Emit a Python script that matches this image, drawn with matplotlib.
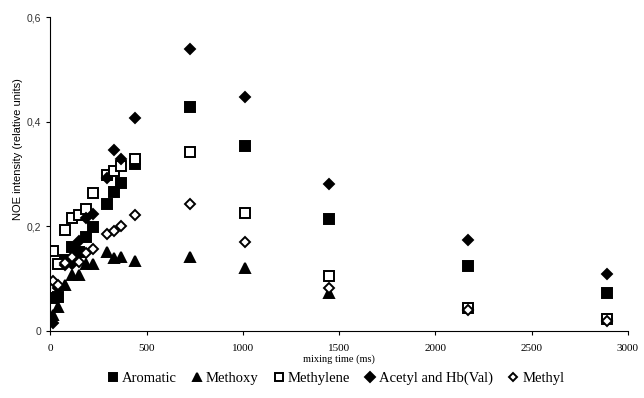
import matplotlib
matplotlib.use("Agg")
import matplotlib.pyplot as plt
from matplotlib.ticker import FuncFormatter

t_early = [16, 38, 76, 112, 150, 185, 220, 294, 332, 367, 441]
t_late = [725, 1010, 1450, 2170, 2890]
times = t_early + t_late

aromatic = [0.063, 0.065, 0.136, 0.161, 0.151, 0.180, 0.199, 0.242, 0.266, 0.283, 0.320,
            0.429, 0.354, 0.215, 0.125, 0.072]
methoxy_t = t_early + t_late[:3]
methoxy = [0.031, 0.046, 0.089, 0.107, 0.107, 0.128, 0.129, 0.151, 0.140, 0.142, 0.134,
           0.141, 0.120, 0.072]
methylene = [0.153, 0.128, 0.194, 0.216, 0.221, 0.234, 0.264, 0.298, 0.306, 0.315, 0.328,
             0.342, 0.225, 0.105, 0.045, 0.024]
acetyl = [0.015, 0.082, 0.126, 0.129, 0.172, 0.217, 0.223, 0.293, 0.347, 0.329, 0.408,
          0.540, 0.447, 0.281, 0.174, 0.109]
methyl = [0.096, 0.089, 0.130, 0.142, 0.133, 0.149, 0.156, 0.185, 0.191, 0.201, 0.221,
          0.243, 0.170, 0.083, 0.040, 0.020]

fig = plt.figure(figsize=(6.44, 3.98), dpi=100)
ax = fig.add_axes([0.078, 0.168, 0.897, 0.789])

serif = "Liberation Serif"
sans = "Liberation Sans"

kw = dict(linestyle="none", markeredgecolor="black", markeredgewidth=1.4)
ax.plot(times, aromatic, marker="s", markersize=6.5, color="black", label="Aromatic", **kw)
ax.plot(methoxy_t, methoxy, marker="^", markersize=7, color="black", label="Methoxy", **kw)
ax.plot(times, methylene, marker="s", markersize=6.5, markerfacecolor="white", color="black", label="Methylene", **kw)
ax.plot(times, acetyl, marker="D", markersize=5.5, color="black", label="Acetyl and Hb(Val)", **kw)
ax.plot(times, methyl, marker="D", markersize=5, markerfacecolor="white", color="black", label="Methyl", **kw)

ax.set_xlim(0, 3000)
ax.set_ylim(0, 0.6)
ax.set_xticks([0, 500, 1000, 1500, 2000, 2500, 3000])
ax.set_yticks([0, 0.2, 0.4, 0.6])
ax.yaxis.set_major_formatter(FuncFormatter(lambda v, p: "0" if v == 0 else f"{v:.1f}".replace(".", ",")))

for s in ["top", "right"]:
    ax.spines[s].set_visible(False)
ax.spines["left"].set_linewidth(0.8)
ax.spines["bottom"].set_linewidth(0.8)
ax.tick_params(axis="both", direction="out", length=3, width=0.8)
for lbl in ax.get_xticklabels():
    lbl.set_fontfamily(serif)
    lbl.set_fontsize(8)
for lbl in ax.get_yticklabels():
    lbl.set_fontfamily(sans)
    lbl.set_fontsize(7.5)
    lbl.set_color("#333333")
ax.tick_params(axis="x", pad=6)

ax.set_xlabel("mixing time (ms)", fontfamily=serif, fontsize=7.5, labelpad=1)
ax.set_ylabel("NOE intensity (relative units)", fontfamily=sans, fontsize=8)
ax.yaxis.set_label_coords(-0.048, 0.58)

fig.legend(loc="lower center", bbox_to_anchor=(0.52, 0.0), ncol=5, frameon=False,
           prop={"family": serif, "size": 10.5}, handletextpad=0.1, columnspacing=0.9,
           handlelength=1.0, markerscale=0.9)

fig.savefig("out.png", dpi=100)
